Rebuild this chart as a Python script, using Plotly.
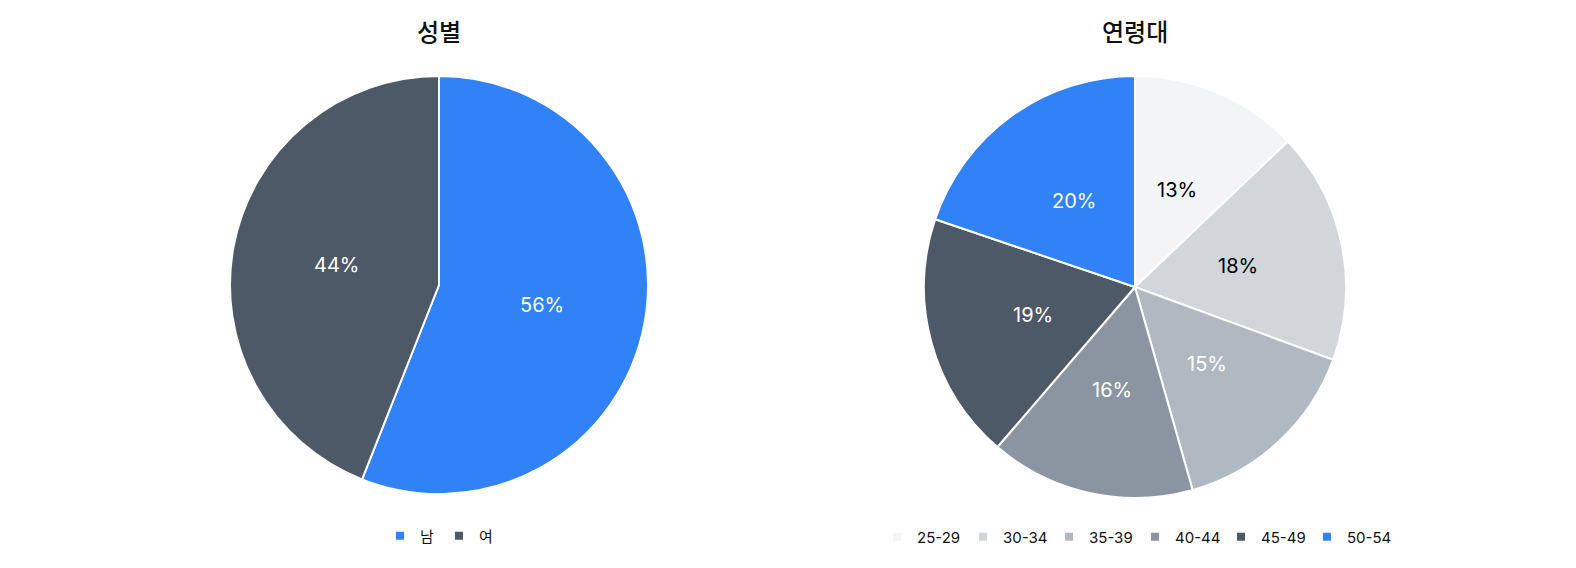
import math

import plotly.graph_objects as go

W, H = 1576, 568
PAD = 8  # the page body margin shifts the figure by this much

gender_labels = ["남", "여"]
gender_values = [56, 44]
gender_colors = ["#3182f6", "#4e5968"]
gender_text_colors = ["#ffffff", "#ffffff"]

age_labels = ["25-29", "30-34", "35-39", "40-44", "45-49", "50-54"]
age_values = [12.9, 17.7, 15.0, 15.7, 18.9, 19.8]
age_colors = ["#f2f4f6", "#d1d6db", "#b0b8c1", "#8b95a1", "#4e5968", "#3182f6"]
age_text_colors = ["#000000", "#000000", "#ffffff", "#ffffff", "#ffffff", "#ffffff"]

FONT = "Inter, 'Noto Sans CJK KR', sans-serif"
FW, FH = W - PAD, H - PAD


def xp(px):
    return (px - PAD) / FW


def yp(py):
    return 1 - (py - PAD) / FH


def pie_block(fig, labels, values, colors, text_colors, cx, cy, r, legend, legend_y, entry_w):
    fig.add_trace(go.Pie(
        labels=labels,
        values=values,
        sort=False,
        direction="clockwise",
        rotation=0,
        domain=dict(x=[xp(cx - r), xp(cx + r)], y=[yp(cy + r), yp(cy - r)]),
        marker=dict(colors=colors, line=dict(color="#ffffff", width=2)),
        textinfo="none",
        hoverinfo="label+percent",
        showlegend=False,
    ))
    # percentage labels at half radius along each slice's mid angle
    total = sum(values)
    acc = 0.0
    for v, tc in zip(values, text_colors):
        mid = (acc + v / 2) / total * 2 * math.pi
        acc += v
        fig.add_annotation(
            text=f"{round(v / total * 100)}%",
            x=xp(cx + 0.5 * r * math.sin(mid)),
            y=yp(cy - 0.5 * r * math.cos(mid)),
            xref="paper", yref="paper", showarrow=False,
            xanchor="center", yanchor="middle",
            font=dict(size=20, family=FONT, color=tc),
        )
    # legend entries with small square swatches
    for lab, col in zip(labels, colors):
        fig.add_trace(go.Scatter(
            x=[None], y=[None], mode="markers", name=lab,
            marker=dict(symbol="square", size=8, color=col),
            legend=legend, hoverinfo="skip",
        ))
    fig.update_layout({legend: dict(
        x=xp(cx), y=yp(legend_y),
        orientation="h", xanchor="center", yanchor="middle",
        font=dict(size=15, family=FONT, color="#111111"),
        itemwidth=30, bgcolor="rgba(0,0,0,0)",
        entrywidth=entry_w,
    )})


fig = go.Figure()
pie_block(fig, gender_labels, gender_values, gender_colors, gender_text_colors,
          439, 285, 209, "legend", 536, 0)
pie_block(fig, age_labels, age_values, age_colors, age_text_colors,
          1135, 287, 211, "legend2", 537, 41)

fig.update_layout(
    width=FW,
    height=FH,
    margin=dict(l=0, r=0, t=0, b=0),
    paper_bgcolor="#ffffff",
    plot_bgcolor="#ffffff",
    font=dict(family=FONT),
    showlegend=True,
    xaxis=dict(visible=False),
    yaxis=dict(visible=False),
)
for title, cx in (("성별", 439), ("연령대", 1135)):
    fig.add_annotation(
        text=title, x=xp(cx), y=yp(33), xref="paper", yref="paper",
        xanchor="center", yanchor="middle", showarrow=False,
        font=dict(size=24, family=FONT, color="#111111", weight=500),
    )

fig.write_html("out.html")
